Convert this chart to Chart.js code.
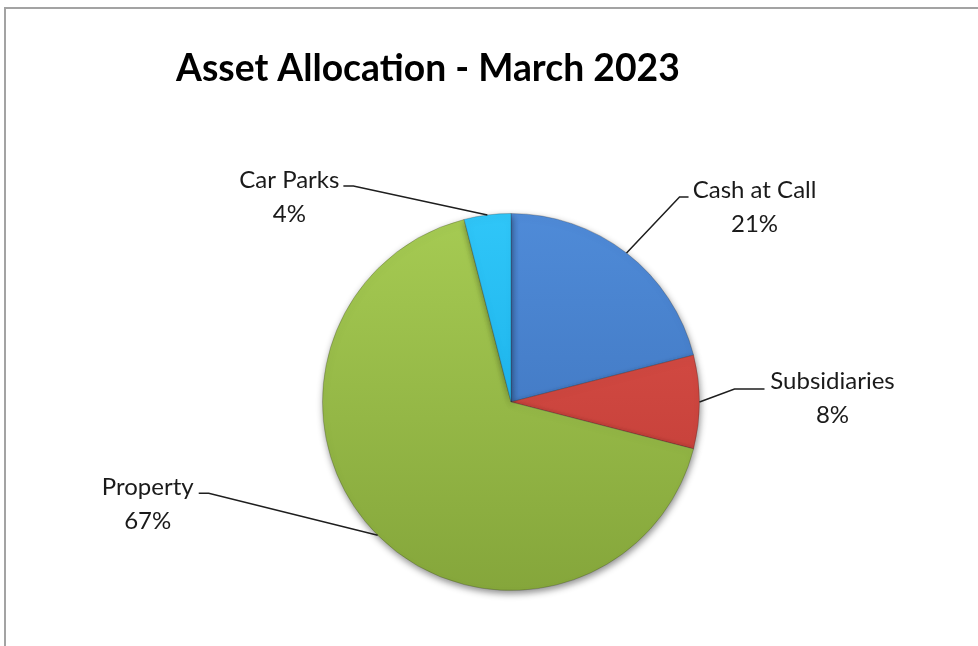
<!DOCTYPE html>
<html>
<head>
<meta charset="utf-8">
<title>Asset Allocation - March 2023</title>
<script src="https://cdn.jsdelivr.net/npm/chart.js@4/dist/chart.umd.min.js"></script>
<style>
  html, body { margin: 0; padding: 0; background: #fff; }
  #wrap { position: relative; width: 978px; height: 646px; }
</style>
</head>
<body>
<div id="wrap"><canvas id="pie" width="978" height="646"></canvas></div>
<script>
// ---- data ----
const TITLE = 'Asset Allocation - March 2023';
const categories = ['Cash at Call', 'Subsidiaries', 'Property', 'Car Parks'];
const values = [21, 8, 67, 4];

// slice fills: [top of pie, bottom of pie]
const SLICE_COLORS = [
  ['#4F8BD8', '#3A6EB6'],
  ['#DE524A', '#BB3933'],
  ['#A6CB53', '#85A63B'],
  ['#30C6F8', '#0DA6E2'],
];

// label placement relative to the point where the leader meets the slice edge
// elbow: where the slanted leader ends, end: tip of the short flat piece, text: centre of first text line
const LABEL_POS = [
  { elbow: [53, -56], end: [62, -56], text: [128, -63] },
  { elbow: [35, -13], end: [65, -13], text: [133, -21] },
  { elbow: [-169, -42], end: [-179, -42], text: [-230, -48] },
  { elbow: [-134, -29], end: [-144, -29], text: [-198, -35] },
];

const FONT = "Lato, 'Open Sans', sans-serif";

const framePlugin = {
  id: 'frame',
  beforeDraw(chart) {
    const c = chart.ctx;
    c.save();
    c.strokeStyle = '#a3a3a3';
    c.lineWidth = 2;
    c.beginPath();
    c.moveTo(chart.width, 8);
    c.lineTo(5, 8);
    c.lineTo(5, chart.height);
    c.stroke();

    // title, left aligned
    c.fillStyle = '#000';
    c.textBaseline = 'alphabetic';
    c.textAlign = 'left';
    let size = 30;
    c.font = `bold ${size}px ${FONT}`;
    size = size * 504 / c.measureText(TITLE).width;
    c.font = `bold ${size}px ${FONT}`;
    c.fillText(TITLE, 176, 81);
    c.restore();
  },
};

const shadowPlugin = {
  id: 'sliceShadow',
  beforeDatasetsDraw(chart) {
    const c = chart.ctx;
    c.save();
    c.shadowColor = 'rgba(0,0,0,0.45)';
    c.shadowBlur = 7;
    c.shadowOffsetX = 1;
    c.shadowOffsetY = 3;
  },
  afterDatasetsDraw(chart) {
    chart.ctx.restore();
  },
};

const labelPlugin = {
  id: 'leaderLabels',
  afterDraw(chart) {
    const c = chart.ctx;
    const meta = chart.getDatasetMeta(0);
    const data = chart.data.datasets[0].data;
    const total = data.reduce((a, b) => a + b, 0);
    c.save();
    c.strokeStyle = '#1e1e1e';
    c.lineWidth = 1.5;
    c.fillStyle = '#1a1a1a';
    c.font = `24px ${FONT}`;
    c.textAlign = 'center';
    c.textBaseline = 'middle';
    meta.data.forEach((arc, i) => {
      const p = arc.getProps(['x', 'y', 'startAngle', 'endAngle', 'outerRadius'], true);
      const mid = (p.startAngle + p.endAngle) / 2;
      const ex = p.x + Math.cos(mid) * p.outerRadius;
      const ey = p.y + Math.sin(mid) * p.outerRadius;
      const pos = LABEL_POS[i];
      c.beginPath();
      c.moveTo(ex, ey);
      c.lineTo(ex + pos.elbow[0], ey + pos.elbow[1]);
      c.lineTo(ex + pos.end[0], ey + pos.end[1]);
      c.stroke();
      const tx = ex + pos.text[0];
      const ty = ey + pos.text[1];
      c.fillText(chart.data.labels[i], tx, ty);
      c.fillText(Math.round(data[i] / total * 100) + '%', tx, ty + 34);
    });
    c.restore();
  },
};

function sliceFill(ctx) {
  const area = ctx.chart.chartArea;
  if (!area) return SLICE_COLORS[ctx.dataIndex][0];
  const pair = SLICE_COLORS[ctx.dataIndex];
  const g = ctx.chart.ctx.createLinearGradient(0, area.top, 0, area.bottom);
  g.addColorStop(0, pair[0]);
  g.addColorStop(1, pair[1]);
  return g;
}

new Chart(document.getElementById('pie'), {
  type: 'pie',
  data: {
    labels: categories,
    datasets: [{
      data: values,
      backgroundColor: sliceFill,
      borderColor: 'rgba(40,40,40,0.25)',
      borderWidth: 1,
    }],
  },
  options: {
    responsive: false,
    animation: false,
    layout: { padding: { top: 213, bottom: 55, left: 300, right: 256 } },
    plugins: {
      legend: { display: false },
      tooltip: { enabled: false },
    },
  },
  plugins: [framePlugin, shadowPlugin, labelPlugin],
});
</script>
</body>
</html>
